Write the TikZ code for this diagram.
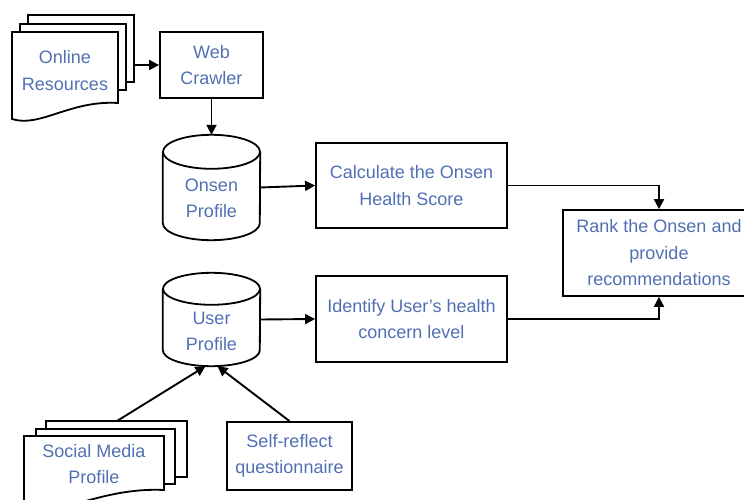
\documentclass[tikz,border=0pt]{standalone}
\usepackage{fontspec}
\setmainfont{Liberation Sans}
\usetikzlibrary{arrows.meta}
\definecolor{labelblue}{RGB}{80,112,180}
\begin{document}
\begin{tikzpicture}[x=1pt,y=-1pt,
  every node/.style={font=\fontsize{18}{26.5}\selectfont, text=labelblue,
    align=center, inner sep=0pt},
  box/.style={draw=black, line width=1.8pt, fill=white},
  outline/.style={draw=black, line width=1.8pt, fill=white},
  link/.style={draw=black, line width=1.9pt, -{Triangle[length=10pt,width=10pt]}}]

\useasboundingbox (0,0) rectangle (744,500);

% ---- stacked documents: online resources
\draw[outline] (28,15) rectangle (134,82);
\draw[outline] (20,24) rectangle (126,90);
\draw[outline] (12,32) -- (118,32) -- (118,103)
  .. controls (70,100) and (40,128) .. (12,119) -- cycle;
\node (online) at (65,70.5) {Online\\Resources};
\coordinate (online-out) at (134,65);

% ---- web crawler
\node[box, minimum width=103pt, minimum height=66pt] (crawler) at (211.5,65) {Web\\Crawler};

% ---- onsen profile (database)
\node[minimum width=97pt, minimum height=105pt] (onsen) at (211.5,187.5) {};
\draw[outline] ([yshift=-17pt]onsen.north west) -- ([yshift=17pt]onsen.south west)
  arc[start angle=180, end angle=360, x radius=48.5pt, y radius=17pt]
  -- ([yshift=-17pt]onsen.north east);
\draw[outline] ([yshift=-17pt]onsen.north) ellipse [x radius=48.5pt, y radius=17pt];
\node at ([yshift=-11pt]onsen.center) {Onsen\\Profile};

% ---- user profile (database)
\node[minimum width=97pt, minimum height=93pt] (user) at (211.5,319.5) {};
\draw[outline] ([yshift=-16pt]user.north west) -- ([yshift=16pt]user.south west)
  arc[start angle=180, end angle=360, x radius=48.5pt, y radius=16pt]
  -- ([yshift=-16pt]user.north east);
\draw[outline] ([yshift=-16pt]user.north) ellipse [x radius=48.5pt, y radius=16pt];
\node at ([yshift=-12pt]user.center) {User\\Profile};

% ---- processing steps
\node[box, minimum width=191pt, minimum height=85pt] (calc) at (411.5,185.5)
  {Calculate the Onsen\\Health Score};
\node[box, minimum width=191pt, minimum height=86pt] (ident) at (411.5,319)
  {Identify User's health\\concern level};
\node[box, minimum width=192pt, minimum height=86pt] (rank) at (659,253)
  {Rank the Onsen and\\provide\\recommendations};

% ---- stacked documents: social media profile
\draw[outline] (46,421) rectangle (187,477);
\draw[outline] (36,429) rectangle (175,484);
\draw[outline] (24,436) -- (164,436) -- (164,490)
  .. controls (100,487) and (60,518) .. (24,508) -- cycle;
\node (social) at (94,464) {Social Media\\Profile};
\coordinate (social-out) at (117,421);

% ---- questionnaire
\node[box, minimum width=125pt, minimum height=68pt] (self) at (289.5,456)
  {Self-reflect\\questionnaire};

% ---- connectors
\draw[link] (online-out) -- (crawler.west);
\draw[link] (crawler.south) -- (onsen.north);
\draw[link] (onsen.east) -- (calc.west);
\draw[link] (calc.east) -| (rank.north);
\draw[link] (ident.east) -| (rank.south);
\draw[link] (user.east) -- (ident.west);
\draw[link] (social-out) -- ([xshift=-6pt]user.south);
\draw[link] (self.north) -- ([xshift=6pt]user.south);

\end{tikzpicture}
\end{document}
